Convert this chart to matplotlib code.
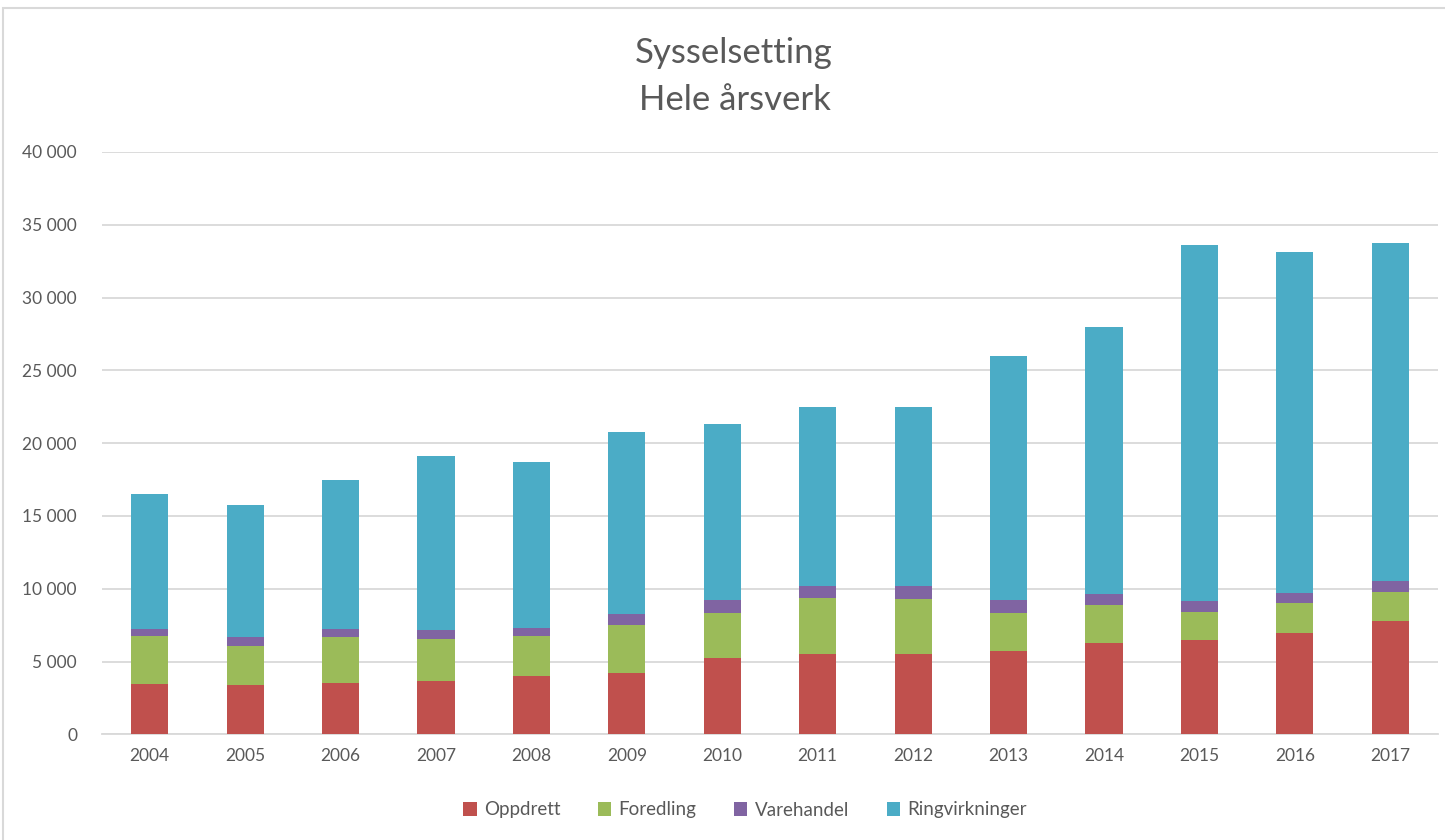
import matplotlib
matplotlib.use("Agg")
import matplotlib.pyplot as plt
from matplotlib.patches import Rectangle
from matplotlib.ticker import FuncFormatter, MultipleLocator

years = ["2004", "2005", "2006", "2007", "2008", "2009", "2010",
         "2011", "2012", "2013", "2014", "2015", "2016", "2017"]
oppdrett = [3460, 3370, 3530, 3690, 4010, 4240, 5220, 5540, 5540, 5700, 6270, 6500, 6980, 7790]
foredling = [3280, 2720, 3140, 2880, 2730, 3290, 3120, 3850, 3760, 2640, 2640, 1930, 2020, 2010]
varehandel = [480, 580, 550, 580, 570, 740, 890, 800, 890, 890, 730, 730, 710, 740]
ringvirkninger = [9280, 9100, 10260, 11980, 11400, 12510, 12100, 12310, 12310, 16770, 18360, 24440, 23400, 23240]

series = [("Oppdrett", oppdrett, "#C0504D"),
          ("Foredling", foredling, "#9BBB59"),
          ("Varehandel", varehandel, "#8064A2"),
          ("Ringvirkninger", ringvirkninger, "#4BACC6")]

plt.rcParams['font.family'] = ['Lato', 'DejaVu Sans']
txt = "#595959"

fig = plt.figure(figsize=(14.45, 8.40), dpi=100)
ax = fig.add_axes([102/1445, 1 - 734.3/840, (1438-102)/1445, (734.3-152)/840])

x = list(range(len(years)))
bottom = [0]*len(years)
for name, vals, col in series:
    ax.bar(x, vals, width=0.39, bottom=bottom, color=col, label=name, zorder=3)
    bottom = [b + v for b, v in zip(bottom, vals)]

ax.set_xlim(-0.5, len(years) - 0.5)
ax.set_ylim(0, 40000)
ax.yaxis.set_major_locator(MultipleLocator(5000))
ax.yaxis.set_major_formatter(FuncFormatter(lambda v, p: f"{int(v):,}".replace(",", " ")))
ax.set_xticks(x)
ax.set_xticklabels(years)
ax.grid(axis='y', color="#D9D9D9", linewidth=1.3, zorder=0)
for s in ["top", "right", "left"]:
    ax.spines[s].set_visible(False)
ax.spines["bottom"].set_color("#D9D9D9")
ax.spines["bottom"].set_linewidth(1.3)
ax.tick_params(axis='both', length=0, labelsize=12.5, colors=txt)
ax.tick_params(axis='y', pad=18)
ax.tick_params(axis='x', pad=10)

fig.text(734/1445, 1 - 53/840, "Sysselsetting", ha='center', va='center', fontsize=25, color=txt)
fig.text(735/1445, 1 - 100/840, "Hele årsverk", ha='center', va='center', fontsize=25, color=txt)

leg = fig.legend(loc='center', bbox_to_anchor=(745/1445, 1 - 810/840), ncol=4, frameon=False,
                 fontsize=13.5, handlelength=0.7, handleheight=0.7, handletextpad=0.4,
                 columnspacing=2.0)
for t in leg.get_texts():
    t.set_color(txt)

fig.patches.append(Rectangle((3/1445, -0.1), 1.2, (1 - 8/840) + 0.1, transform=fig.transFigure,
                             fill=False, edgecolor="#D9D9D9", linewidth=1.5))

fig.savefig("out.png", dpi=100, facecolor="white")
